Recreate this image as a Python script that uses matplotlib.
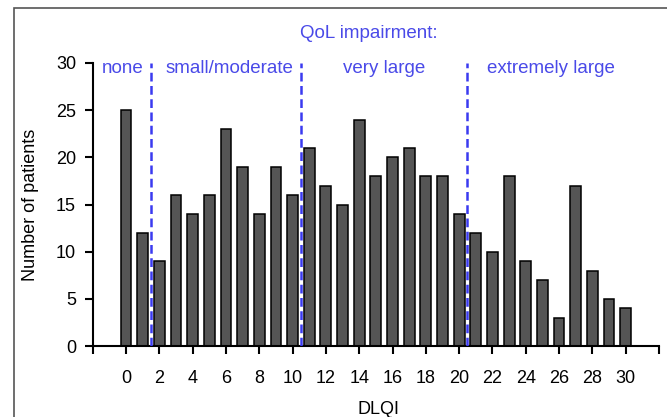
import matplotlib
matplotlib.use('Agg')
import matplotlib.pyplot as plt
import matplotlib.patches as mpatches
import numpy as np

plt.rcParams['font.family'] = ['Liberation Sans', 'DejaVu Sans']

# DLQI score distribution
dlqi = np.arange(0, 31)
patients = [25, 12, 9, 16, 14, 16, 23, 19, 14, 19, 16,
            21, 17, 15, 24, 18, 20, 21, 18, 18, 14,
            12, 10, 18, 9, 7, 3, 17, 8, 5, 4]

# QoL impairment bands (boundaries between DLQI scores)
band_edges = [1.5, 10.5, 20.5]
band_labels = ['none', 'small/moderate', 'very large', 'extremely large']
band_label_x = [-0.2, 6.2, 15.5, 25.5]

BLUE = '#4a4ae8'
LINE_BLUE = '#3a3af0'

fig = plt.figure(figsize=(6.67, 4.17), dpi=100)
ax = fig.add_axes([0.139, 0.170, 0.849, 0.679])

ax.bar(dlqi, patients, width=0.65, color='#555555', edgecolor='black', linewidth=1.1, zorder=2)

ax.vlines(band_edges, 0, 30, colors=LINE_BLUE, linestyles=(0, (3.5, 1.8)), linewidth=1.8, zorder=3)
for lx, lab in zip(band_label_x, band_labels):
    ax.text(lx, 29.4, lab, color=BLUE, fontsize=13.5, ha='center', va='center')
ax.text(14.6, 33.1, 'QoL impairment:', color=BLUE, fontsize=13.5, ha='center', va='center', clip_on=False)

ax.set_xlim(-2, 32)
ax.set_ylim(0, 30)
xt = np.arange(-2, 34, 2)
ax.set_xticks(xt)
ax.set_xticklabels(['' if (t < 0 or t > 30) else str(t) for t in xt])
ax.set_yticks(np.arange(0, 31, 5))
ax.tick_params(axis='both', direction='out', length=6, width=1.5, labelsize=13, colors='black')
ax.tick_params(axis='x', pad=11)
ax.tick_params(axis='y', pad=6)

for side in ['top', 'right']:
    ax.spines[side].set_visible(False)
for side in ['left', 'bottom']:
    ax.spines[side].set_linewidth(1.5)

ax.set_ylabel('Number of patients', fontsize=13)
ax.yaxis.set_label_coords(-0.095, 0.5)
ax.set_xlabel('DLQI', fontsize=13)
ax.xaxis.set_label_coords(0.505, -0.195)

# outer frame
frame = mpatches.Rectangle((14 / 667, -0.1), 1.2, 1.1 - 8 / 417, transform=fig.transFigure,
                           fill=False, edgecolor='#555555', linewidth=1.2, clip_on=False)
fig.patches.append(frame)

fig.savefig('out.png', dpi=100)
